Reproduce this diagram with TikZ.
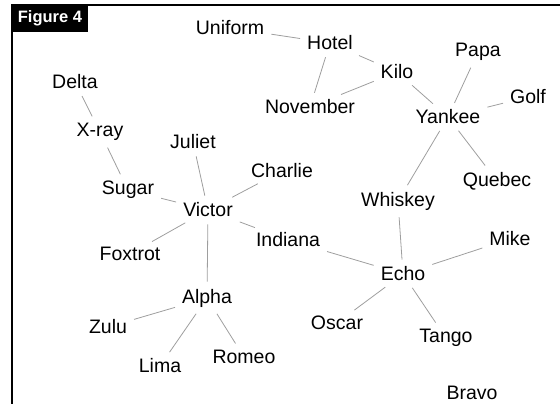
\documentclass[tikz,border=0pt]{standalone}
\usepackage{fontspec}
\setmainfont{Liberation Sans}
\usepackage{tikz}
\usetikzlibrary{positioning}
\usepackage{xcolor}
\definecolor{edgegray}{gray}{0.62}

\begin{document}
\begin{tikzpicture}[x=1pt,y=-1pt,
	word/.style={inner sep=4pt,font=\fontsize{19.5}{23}\selectfont},
	tie/.style={draw=edgegray,line width=0.8pt,shorten >=3pt,shorten <=3pt}]
		\useasboundingbox (0,0) rectangle (560,404);
		\draw[line width=1.3pt] (560,5) -- (12,5) -- (12,404);
		\fill (12,5) rectangle (88,32);
		\node[text=white,font=\fontsize{16.5}{18}\selectfont\bfseries] (fig) at (50,18.5) {Figure 4};

		\draw (230,28) node[word] (uniform) {Uniform}
		(330,43) node[word] (hotel) {Hotel}
		(397,72) node[word] (kilo) {Kilo}
		(310,107) node[word] (november) {November}
		(478,52) node[word] (papa) {Papa}
		(528,97) node[word] (golf) {Golf}
		(448,117) node[word] (yankee) {Yankee}
		(497,181) node[word] (quebec) {Quebec}
		(75,82) node[word] (delta) {Delta}
		(100,132) node[word] (xray) {X-ray}
		(193,142) node[word] (juliet) {Juliet}
		(282,171) node[word] (charlie) {Charlie}
		(128,190) node[word] (sugar) {Sugar}
		(208,210) node[word] (victor) {Victor}
		(398,201) node[word] (whiskey) {Whiskey}
		(130,254) node[word] (foxtrot) {Foxtrot}
		(288,240) node[word] (indiana) {Indiana}
		(510,239) node[word] (mike) {Mike}
		(403,274) node[word] (echo) {Echo}
		(207,298) node[word] (alpha) {Alpha}
		(108,327) node[word] (zulu) {Zulu}
		(337,323) node[word] (oscar) {Oscar}
		(160,366) node[word] (lima) {Lima}
		(244,357) node[word] (romeo) {Romeo}
		(446,338) node[word] (tango) {Tango}
		(472,393) node[word] (bravo) {Bravo};

		\draw[tie] (uniform) -- (hotel);
		\draw[tie] (hotel) -- (kilo);
		\draw[tie] (hotel) -- (november);
		\draw[tie] (kilo) -- (november);
		\draw[tie] (kilo) -- (yankee);
		\draw[tie] (yankee) -- (papa);
		\draw[tie] (yankee) -- (golf);
		\draw[tie] (yankee) -- (quebec);
		\draw[tie] (yankee) -- (whiskey);
		\draw[tie] (whiskey) -- (echo);
		\draw[tie] (echo) -- (indiana);
		\draw[tie] (echo) -- (mike);
		\draw[tie] (echo) -- (oscar);
		\draw[tie] (echo) -- (tango);
		\draw[tie] (indiana) -- (victor);
		\draw[tie] (victor) -- (charlie);
		\draw[tie] (victor) -- (juliet);
		\draw[tie] (victor) -- (sugar);
		\draw[tie] (victor) -- (foxtrot);
		\draw[tie] (victor) -- (alpha);
		\draw[tie] (sugar) -- (xray);
		\draw[tie] (xray) -- (delta);
		\draw[tie] (alpha) -- (zulu);
		\draw[tie] (alpha) -- (lima);
		\draw[tie] (alpha) -- (romeo);
	\end{tikzpicture}
\end{document}
